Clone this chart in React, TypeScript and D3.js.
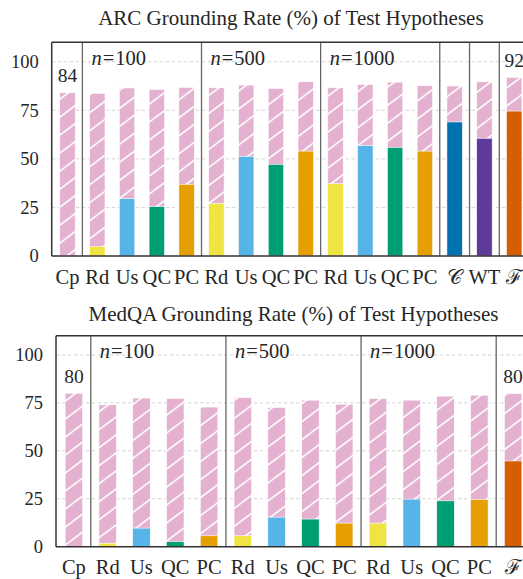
import React from "react";
import * as d3 from "d3";

// ---------- data ----------
const arcCategories = ["Cp", "Rd", "Us", "QC", "PC", "Rd", "Us", "QC", "PC", "Rd", "Us", "QC", "PC", "𝒞", "WT", "ℱ"];
const arcTotal = [84, 83.7, 86.5, 85.8, 86.8, 86.6, 88, 86.3, 89.7, 86.6, 88.3, 89.5, 87.7, 87.5, 89.7, 92];
const arcGrounded = [0, 4.8, 29.5, 25.4, 36.9, 27.1, 51.3, 47.2, 54, 37.2, 56.8, 55.9, 54, 69, 60.6, 74.6];
const arcMethods = ["Cp", "Rd", "Us", "QC", "PC", "Rd", "Us", "QC", "PC", "Rd", "Us", "QC", "PC", "C", "WT", "F"];
const arcSeparators = [0, 4, 8, 12, 13, 14];
const arcLabeled = [0, 15];

const medCategories = ["Cp", "Rd", "Us", "QC", "PC", "Rd", "Us", "QC", "PC", "Rd", "Us", "QC", "PC", "ℱ"];
const medTotal = [80, 74, 77.5, 77.3, 72.8, 77.8, 72.6, 76.4, 74.3, 77.3, 76.4, 78.5, 79, 79.8];
const medGrounded = [0, 1.8, 9.7, 2.6, 5.7, 5.7, 15.4, 14.4, 12.3, 12.3, 24.8, 23.9, 24.6, 44.7];
const medMethods = ["Cp", "Rd", "Us", "QC", "PC", "Rd", "Us", "QC", "PC", "Rd", "Us", "QC", "PC", "F"];
const medSeparators = [0, 4, 8, 12];
const medLabeled = [0, 13];

const groupLabels = ["100", "500", "1000"];
const yTicks = [0, 25, 50, 75, 100];

const methodColors: Record<string, string> = {
  Cp: "#e4b2d0",
  Rd: "#f0e442",
  Us: "#56b4e9",
  QC: "#009e73",
  PC: "#e69f00",
  C: "#0072b2",
  WT: "#5e3a9a",
  F: "#d55e00",
};
const PINK = "#e4b2d0";
const FONT = "'Liberation Serif', 'DejaVu Serif', serif";
const INK = "#262626";

type PanelProps = {
  id: string;
  title: string;
  categories: string[];
  total: number[];
  grounded: number[];
  methods: string[];
  separators: number[];
  labeled: number[];
  left: number;
  right: number;
  top: number;
  bottom: number;
  titleY: number;
};

function Panel(p: PanelProps) {
  const n = p.categories.length;
  const x = d3.scaleLinear().domain([-0.53, n - 0.47]).range([p.left, p.right]);
  const y = d3.scaleLinear().domain([0, 110]).range([p.bottom, p.top]);
  const step = x(1) - x(0);
  const bw = step * 0.52;
  const cx = (p.left + p.right) / 2;
  return (
    <g>
      <text x={cx} y={p.titleY} textAnchor="middle" fontSize={21} fill={INK} fontFamily={FONT}>
        {p.title}
      </text>
      {/* grid */}
      {yTicks.filter((t) => t > 0).map((t) => (
        <line key={t} x1={p.left} x2={p.right} y1={y(t)} y2={y(t)} stroke="#d0d0d0" strokeWidth={0.9} strokeDasharray="3.5,2.5" />
      ))}
      {/* bars */}
      {p.total.map((v, i) => (
        <rect key={"t" + i} x={x(i) - bw / 2} y={y(v)} width={bw} height={y(0) - y(v)} fill={`url(#hatch-${p.id})`} stroke="#fff" strokeWidth={0.6} />
      ))}
      {p.grounded.map((v, i) =>
        v > 0 ? (
          <rect key={"g" + i} x={x(i) - bw / 2} y={y(v)} width={bw} height={y(0) - y(v)} fill={methodColors[p.methods[i]]} stroke="#fff" strokeWidth={0.6} />
        ) : null
      )}
      {/* separators */}
      {p.separators.map((s) => (
        <line key={"s" + s} x1={x(s + 0.5)} x2={x(s + 0.5)} y1={p.top} y2={p.bottom} stroke="#666" strokeWidth={1.3} />
      ))}
      {/* group labels */}
      {groupLabels.map((g, k) => (
        <text key={"n" + k} x={x(p.separators[k] + 0.5) + 9} y={p.top + 22.5} fontSize={20.5} fill={INK} fontFamily={FONT}>
          <tspan fontStyle="italic">n</tspan>
          <tspan dx={1}>=</tspan>
          <tspan dx={1}>{g}</tspan>
        </text>
      ))}
      {/* value labels */}
      {p.labeled.map((i) => (
        <text key={"v" + i} x={x(i)} y={y(p.total[i]) - 10.5} textAnchor="middle" fontSize={19.5} fill={INK} fontFamily={FONT}>
          {Math.round(p.total[i])}
        </text>
      ))}
      {/* spines */}
      <line x1={p.left} x2={p.right} y1={p.bottom} y2={p.bottom} stroke="#333" strokeWidth={1.5} />
      <line x1={p.left} x2={p.right} y1={p.top} y2={p.top} stroke="#333" strokeWidth={1.5} />
      <line x1={p.left} x2={p.left} y1={p.top} y2={p.bottom} stroke="#333" strokeWidth={1.5} />
      {/* y ticks */}
      {yTicks.map((t) => (
        <text key={"y" + t} x={p.left - 13} y={y(t)} dy="0.34em" textAnchor="end" fontSize={18.5} fill={INK} fontFamily={FONT}>
          {t}
        </text>
      ))}
      {/* x ticks */}
      {p.categories.map((c, i) => (
        <text key={"x" + i} x={x(i)} y={p.bottom + 27.5} textAnchor="middle" fontSize={20.5} fill={INK} fontFamily={FONT}>
          {c}
        </text>
      ))}
    </g>
  );
}

export default function App() {
  const hatchDefs = ["arc", "med"].map((id) => (
    <pattern key={id} id={`hatch-${id}`} patternUnits="userSpaceOnUse" width={24} height={18}>
      <rect width={24} height={18} fill={PINK} />
      <path d="M0,18 L24,0 M-2,1.5 L2,-1.5 M22,19.5 L26,16.5" stroke="#fff" strokeWidth={1.5} />
    </pattern>
  ));
  return (
    <svg width={523} height={579} viewBox="0 0 523 579" style={{ position: "absolute", left: 0, top: 0, background: "#fff" }}>
      <defs>{hatchDefs}</defs>
      <rect width={523} height={579} fill="#fff" />
      <Panel id="arc" title="ARC Grounding Rate (%) of Test Hypotheses" categories={arcCategories} total={arcTotal}
        grounded={arcGrounded} methods={arcMethods} separators={arcSeparators} labeled={arcLabeled}
        left={51.7} right={530} top={42.3} bottom={256} titleY={25} />
      <Panel id="med" title="MedQA Grounding Rate (%) of Test Hypotheses" categories={medCategories} total={medTotal}
        grounded={medGrounded} methods={medMethods} separators={medSeparators} labeled={medLabeled}
        left={56} right={531} top={335.7} bottom={546.7} titleY={321} />
    </svg>
  );
}
